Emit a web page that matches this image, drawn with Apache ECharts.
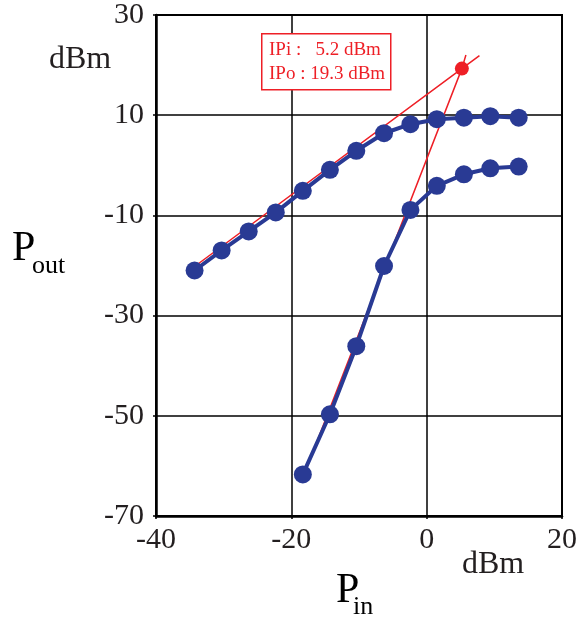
<!DOCTYPE html>
<html>
<head>
<meta charset="utf-8">
<script src="https://cdn.jsdelivr.net/npm/echarts@6/dist/echarts.min.js"></script>
<style>
  html, body { margin: 0; padding: 0; background: #fff; }
  #chart { width: 586px; height: 621px; }
</style>
</head>
<body>
<div id="chart"></div>
<script>
// input power (dBm)
const pin = [-34.3, -30.3, -26.3, -22.3, -18.3, -14.3, -10.4, -6.3, -2.4, 1.5, 5.5, 9.4, 13.6];
// fundamental output (dBm)
const poutFund = [-21.0, -17.0, -13.2, -9.4, -5.1, -0.9, 2.9, 6.4, 8.2, 9.2, 9.5, 9.8, 9.5];
// third-order output (dBm), starts at pin[4]
const poutThird = [-61.7, -49.7, -36.1, -20.1, -8.9, -4.1, -1.8, -0.6, -0.25];
// intercept point
const ipIn = 5.2;
const ipOut = 19.3;
// extrapolation lines (x, y)
const fundLine = [[-34.3, -20.2], [ipIn, ipOut], [7.8, 21.9]];
const thirdLine = [[-17.9, -61.0], [ipIn, ipOut], [5.8, 22.0]];
const xTicks = [-40, -20, 0, 20];
const yTicks = [-70, -50, -30, -10, 10, 30];

const BLUE = '#293a94';
const RED = '#ee1f26';
const FONT = '"Liberation Serif", "DejaVu Serif", serif';

const chart = echarts.init(document.getElementById('chart'));

const fundData = pin.map((x, i) => [x, poutFund[i]]);
const thirdData = poutThird.map((y, i) => [pin[i + 4], y]);

chart.setOption({
  animation: false,
  grid: {
    left: 156, right: 24, top: 12, bottom: 105,
    show: true, borderColor: '#000', borderWidth: 2
  },
  xAxis: {
    type: 'value',
    min: xTicks[0], max: xTicks[xTicks.length - 1], interval: 20,
    axisLine: { onZero: false, lineStyle: { color: '#000', width: 2.5 } },
    axisTick: { show: true, length: 3, lineStyle: { color: '#000', width: 1.5 } },
    splitLine: { lineStyle: { color: '#000', width: 1.5 } },
    axisLabel: { color: '#231f20', fontFamily: FONT, fontSize: 30, margin: 9 }
  },
  yAxis: {
    type: 'value',
    min: yTicks[0], max: yTicks[yTicks.length - 1], interval: 20,
    axisLine: { onZero: false, lineStyle: { color: '#000', width: 2.5 } },
    axisTick: { show: true, length: 3, lineStyle: { color: '#000', width: 1.5 } },
    splitLine: { lineStyle: { color: '#000', width: 1.5 } },
    axisLabel: { color: '#231f20', fontFamily: FONT, fontSize: 30, margin: 12, padding: [6, 0, 0, 0] }
  },
  series: [
    {
      type: 'line', data: fundLine, symbol: 'none', z: 2,
      lineStyle: { color: RED, width: 1.5 }
    },
    {
      type: 'line', data: thirdLine, symbol: 'none', z: 2,
      lineStyle: { color: RED, width: 1.5 }
    },
    {
      type: 'line', data: fundData, symbol: 'circle', symbolSize: 18, z: 3,
      lineStyle: { color: BLUE, width: 4 }, itemStyle: { color: BLUE }
    },
    {
      type: 'line', data: thirdData, symbol: 'circle', symbolSize: 18, z: 3,
      lineStyle: { color: BLUE, width: 4 }, itemStyle: { color: BLUE }
    },
    {
      type: 'scatter', data: [[ipIn, ipOut]], symbolSize: 14, z: 4,
      itemStyle: { color: RED, opacity: 1 }
    }
  ],
  graphic: [
    {
      type: 'rect', left: 261, top: 33,
      shape: { width: 129, height: 56 },
      style: { fill: '#fff', stroke: RED, lineWidth: 1.5 }, z: 10
    },
    {
      type: 'text', left: 269, top: 38, z: 11,
      style: {
        text: 'IPi :   ' + ipIn.toFixed(1) + ' dBm\nIPo : ' + ipOut.toFixed(1) + ' dBm',
        font: '19px ' + FONT, fill: RED, lineHeight: 24
      }
    },
    // axis units and names
    { type: 'text', x: 49, y: 60, style: { text: 'dBm', font: '32px ' + FONT, fill: '#231f20', verticalAlign: 'middle' } },
    { type: 'text', x: 462, y: 565, style: { text: 'dBm', font: '32px ' + FONT, fill: '#231f20', verticalAlign: 'middle' } },
    { type: 'text', x: 12, y: 249, style: { text: 'P', font: '42px ' + FONT, fill: '#000', verticalAlign: 'middle' } },
    { type: 'text', x: 32, y: 266, style: { text: 'out', font: '26px ' + FONT, fill: '#000', verticalAlign: 'middle' } },
    { type: 'text', x: 336, y: 591, style: { text: 'P', font: '42px ' + FONT, fill: '#000', verticalAlign: 'middle' } },
    { type: 'text', x: 353, y: 607, style: { text: 'in', font: '26px ' + FONT, fill: '#000', verticalAlign: 'middle' } }
  ]
});
</script>
</body>
</html>
